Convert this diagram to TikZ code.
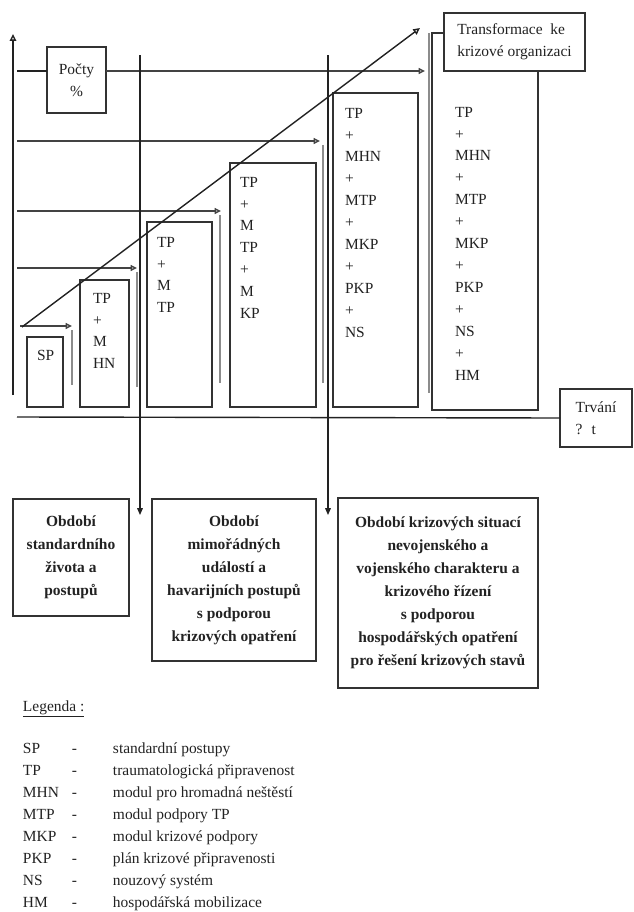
\documentclass[tikz,border=0pt]{standalone}
\usepackage{fontspec}
\setmainfont{Liberation Serif}
\usepackage{tikz}
\usetikzlibrary{positioning}
\usetikzlibrary{arrows.meta}
\definecolor{KRInk}{RGB}{34,34,34}
\definecolor{KRFrame}{RGB}{50,50,50}
\definecolor{KRShadow}{RGB}{140,140,140}
\newcommand{\legitem}[2]{\makebox[1.225cm][l]{#1}\makebox[1.025cm][l]{-}#2}

\begin{document}
\begin{tikzpicture}[
x=1cm,
y=1cm,
every node/.style={font=\fontsize{11}{15.6}\selectfont,text=KRInk,outer sep=0pt},
stagebox/.style={draw=KRFrame,fill=white,line width=1pt,inner sep=0pt,anchor=north west},
stagelist/.style={align=left,inner sep=0pt,anchor=north west},
tagbox/.style={draw=KRFrame,fill=white,line width=1pt,align=left,inner sep=0pt,anchor=north west},
periodbox/.style={draw=KRFrame,fill=white,line width=1pt,align=center,inner sep=2pt,anchor=north west,font=\bfseries\fontsize{11}{16.3}\selectfont},
legendtitle/.style={anchor=base west,inner sep=0pt},
legendrow/.style={anchor=base west,inner sep=0pt},
axisline/.style={-{Triangle[open,length=1.7mm,width=1.6mm]},line width=1pt,draw=KRInk},
plainline/.style={line width=1pt,draw=KRInk},
levelflow/.style={-{Triangle[open,length=1.6mm,width=1.5mm]},line width=1pt,draw=KRInk!85},
dropline/.style={line width=1.6pt,draw=KRShadow},
periodflow/.style={-{Triangle[length=1.7mm,width=1.4mm]},line width=0.8pt,draw=KRInk}
]

\path[use as bounding box] (0,-22.8) rectangle (15.85,0);

% axes
\coordinate (yBase) at (0.325,-9.875);
\coordinate (yTop) at (0.325,-0.85);
\coordinate (xStart) at (0.425,-10.425);

% level arrows
\coordinate (lvlOneStart) at (0.425,-1.775);
\coordinate (lvlOneEnd) at (10.625,-1.775);
\coordinate (lvlTwoStart) at (0.425,-3.525);
\coordinate (lvlTwoEnd) at (8.0,-3.525);
\coordinate (lvlThreeStart) at (0.425,-5.275);
\coordinate (lvlThreeEnd) at (5.525,-5.275);
\coordinate (lvlFourStart) at (0.425,-6.7);
\coordinate (lvlFourEnd) at (3.425,-6.7);
\coordinate (lvlFiveStart) at (0.5,-8.15);
\coordinate (lvlFiveEnd) at (1.8,-8.15);

\coordinate (dropOneTop) at (1.8,-8.25);
\coordinate (dropOneBase) at (1.8,-9.625);
\coordinate (dropTwoTop) at (3.425,-6.8);
\coordinate (dropTwoBase) at (3.425,-9.675);
\coordinate (dropThreeTop) at (5.5,-5.375);
\coordinate (dropThreeBase) at (5.5,-9.575);
\coordinate (dropFourTop) at (8.075,-3.625);
\coordinate (dropFourBase) at (8.075,-9.575);
\coordinate (dropFiveTop) at (10.725,-0.825);
\coordinate (dropFiveBase) at (10.725,-9.825);

\coordinate (diagStart) at (0.55,-8.175);
\coordinate (diagEnd) at (10.5,-0.7);

\coordinate (periodOneTop) at (3.5,-1.375);
\coordinate (periodOneEnd) at (3.5,-12.875);
\coordinate (periodTwoTop) at (8.2,-1.375);
\coordinate (periodTwoEnd) at (8.2,-12.875);

\draw[dropline] (dropOneTop) -- (dropOneBase);
\draw[dropline] (dropTwoTop) -- (dropTwoBase);
\draw[dropline] (dropThreeTop) -- (dropThreeBase);
\draw[dropline] (dropFourTop) -- (dropFourBase);
\draw[dropline] (dropFiveTop) -- (dropFiveBase);

\node[stagebox,minimum width=0.9cm,minimum height=1.75cm] (spbox) at (0.675,-8.425) {};
\node[stagebox,minimum width=1.225cm,minimum height=3.175cm] (mhnbox) at (2.0,-7.0) {};
\node[stagebox,minimum width=1.625cm,minimum height=4.625cm] (mtpbox) at (3.675,-5.55) {};
\node[stagebox,minimum width=2.15cm,minimum height=6.1cm] (kpbox) at (5.75,-4.075) {};
\node[stagebox,minimum width=2.125cm,minimum height=7.85cm] (nsbox) at (8.325,-2.325) {};
\node[stagebox,minimum width=2.65cm,minimum height=9.425cm] (hmbox) at (10.8,-0.825) {};

\node[stagelist] (sptext) at (0.925,-8.75) {SP};
\node[stagelist] (mhntext) at (2.325,-7.325) {TP\\+\\M\\HN};
\node[stagelist] (mtptext) at (3.925,-5.925) {TP\\+\\M\\TP};
\node[stagelist] (kptext) at (6.0,-4.425) {TP\\+\\M\\TP\\+\\M\\KP};
\node[stagelist] (nstext) at (8.625,-2.7) {TP\\+\\MHN\\+\\MTP\\+\\MKP\\+\\PKP\\+\\NS};
\node[stagelist] (hmtext) at (11.375,-2.675) {TP\\+\\MHN\\+\\MTP\\+\\MKP\\+\\PKP\\+\\NS\\+\\HM};

\node[tagbox,align=center,minimum width=1.475cm,minimum height=1.65cm] (pocty) at (1.175,-1.175) {Počty\\\%};
\node[tagbox,minimum width=3.525cm,minimum height=1.45cm] (transf) at (11.1,-0.325) {Transformace \ ke\\krizové organizaci};
\node[tagbox,minimum width=1.8cm,minimum height=1.45cm] (trvani) at (14.0,-9.725) {Trvání\\? \ t};

\draw[axisline] (yBase) -- (yTop);
\draw[plainline] (xStart) -- (trvani.west);

\draw[plainline] (lvlOneStart) -- (pocty.west |- lvlOneStart);
\draw[levelflow] (pocty.east |- lvlOneStart) -- (lvlOneEnd);
\draw[levelflow] (lvlTwoStart) -- (lvlTwoEnd);
\draw[levelflow] (lvlThreeStart) -- (lvlThreeEnd);
\draw[levelflow] (lvlFourStart) -- (lvlFourEnd);
\draw[levelflow] (lvlFiveStart) -- (lvlFiveEnd);

\draw[axisline] (diagStart) -- (diagEnd);

\node[periodbox,minimum width=2.9cm,minimum height=2.925cm] (standard) at (0.325,-12.475) {Období\\standardního\\života a\\postupů};
\node[periodbox,minimum width=4.1cm,minimum height=4.05cm] (mimoradne) at (3.8,-12.475) {Období\\mimořádných\\událostí a\\havarijních postupů\\s podporou\\krizových opatření};
\node[periodbox,minimum width=5.0cm,minimum height=4.75cm] (krizove) at (8.45,-12.45) {Období krizových situací\\nevojenského a\\vojenského charakteru a\\krizového řízení\\s podporou\\hospodářských opatření\\pro řešení krizových stavů};

\draw[periodflow] (periodOneTop) -- (periodOneEnd);
\draw[periodflow] (periodTwoTop) -- (periodTwoEnd);

\node[legendtitle] (legtitle) at (0.575,-17.775) {\underline{Legenda :}};
\node[legendrow] (legsp) at (0.575,-18.825) {\legitem{SP}{standardní postupy}};
\node[legendrow] (legtp) at (0.575,-19.375) {\legitem{TP}{traumatologická připravenost}};
\node[legendrow] (legmhn) at (0.575,-19.925) {\legitem{MHN}{modul pro hromadná neštěstí}};
\node[legendrow] (legmtp) at (0.575,-20.475) {\legitem{MTP}{modul podpory TP}};
\node[legendrow] (legmkp) at (0.575,-21.025) {\legitem{MKP}{modul krizové podpory}};
\node[legendrow] (legpkp) at (0.575,-21.575) {\legitem{PKP}{plán krizové připravenosti}};
\node[legendrow] (legns) at (0.575,-22.125) {\legitem{NS}{nouzový systém}};
\node[legendrow] (leghm) at (0.575,-22.675) {\legitem{HM}{hospodářská mobilizace}};

\end{tikzpicture}
\end{document}
